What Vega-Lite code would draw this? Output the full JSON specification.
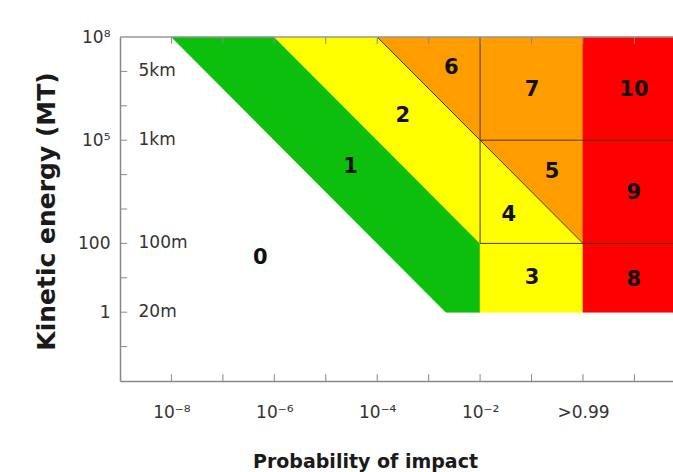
{
  "$schema": "https://vega.github.io/schema/vega-lite/v6.json",
  "autosize": {"type": "none"},
  "padding": {"left": 120, "top": 37, "right": 0, "bottom": 91},
  "width": 553,
  "height": 344,
  "background": "white",
  "config": {
    "view": {"stroke": null},
    "font": "DejaVu Sans"
  },
  "datasets": {
    "regions": [
      {"region": "1", "zone": "green", "u": -8, "lo": 8, "hi": 8},
      {"region": "1", "zone": "green", "u": -6, "lo": 5, "hi": 8},
      {"region": "1", "zone": "green", "u": -2.6667, "lo": 0, "hi": 3},
      {"region": "1", "zone": "green", "u": -2, "lo": 0, "hi": 2},
      {"region": "2", "zone": "yellow", "u": -6, "lo": 8, "hi": 8},
      {"region": "2", "zone": "yellow", "u": -4, "lo": 5, "hi": 8},
      {"region": "2", "zone": "yellow", "u": -2, "lo": 2, "hi": 5},
      {"region": "6", "zone": "orange", "u": -4, "lo": 8, "hi": 8},
      {"region": "6", "zone": "orange", "u": -2, "lo": 5, "hi": 8},
      {"region": "7", "zone": "orange", "u": -2, "lo": 5, "hi": 8},
      {"region": "7", "zone": "orange", "u": 0, "lo": 5, "hi": 8},
      {"region": "5", "zone": "orange", "u": -2, "lo": 5, "hi": 5},
      {"region": "5", "zone": "orange", "u": 0, "lo": 2, "hi": 5},
      {"region": "4", "zone": "yellow", "u": -2, "lo": 2, "hi": 5},
      {"region": "4", "zone": "yellow", "u": 0, "lo": 2, "hi": 2},
      {"region": "3", "zone": "yellow", "u": -2, "lo": 0, "hi": 2},
      {"region": "3", "zone": "yellow", "u": 0, "lo": 0, "hi": 2},
      {"region": "red", "zone": "red", "u": 0, "lo": 0, "hi": 8},
      {"region": "red", "zone": "red", "u": 1.75, "lo": 0, "hi": 8}
    ],
    "lines": [
      {"u": -4, "e": 8, "u2": 0, "e2": 2},
      {"u": -2, "e": 8, "u2": -2, "e2": 2},
      {"u": -2, "e": 5, "u2": 1.75, "e2": 5},
      {"u": -2, "e": 2, "u2": 1.75, "e2": 2}
    ],
    "ticks": [
      {"u": -8, "e": -2, "u2": -8, "e2": -1.8},
      {"u": -7, "e": -2, "u2": -7, "e2": -1.8},
      {"u": -6, "e": -2, "u2": -6, "e2": -1.8},
      {"u": -5, "e": -2, "u2": -5, "e2": -1.8},
      {"u": -4, "e": -2, "u2": -4, "e2": -1.8},
      {"u": -3, "e": -2, "u2": -3, "e2": -1.8},
      {"u": -2, "e": -2, "u2": -2, "e2": -1.8},
      {"u": -1, "e": -2, "u2": -1, "e2": -1.8},
      {"u": 0, "e": -2, "u2": 0, "e2": -1.8},
      {"u": 1, "e": -2, "u2": 1, "e2": -1.8},
      {"u": -8, "e": 8, "u2": -8, "e2": 7.8},
      {"u": -7, "e": 8, "u2": -7, "e2": 7.8},
      {"u": -6, "e": 8, "u2": -6, "e2": 7.8},
      {"u": -5, "e": 8, "u2": -5, "e2": 7.8},
      {"u": -4, "e": 8, "u2": -4, "e2": 7.8},
      {"u": -3, "e": 8, "u2": -3, "e2": 7.8},
      {"u": -2, "e": 8, "u2": -2, "e2": 7.8},
      {"u": -1, "e": 8, "u2": -1, "e2": 7.8},
      {"u": 0, "e": 8, "u2": 0, "e2": 7.8},
      {"u": 1, "e": 8, "u2": 1, "e2": 7.8},
      {"u": -9, "e": -1, "u2": -8.86, "e2": -1},
      {"u": -9, "e": 0, "u2": -8.86, "e2": 0},
      {"u": -9, "e": 1, "u2": -8.86, "e2": 1},
      {"u": -9, "e": 2, "u2": -8.86, "e2": 2},
      {"u": -9, "e": 3, "u2": -8.86, "e2": 3},
      {"u": -9, "e": 4, "u2": -8.86, "e2": 4},
      {"u": -9, "e": 5, "u2": -8.86, "e2": 5},
      {"u": -9, "e": 6, "u2": -8.86, "e2": 6},
      {"u": -9, "e": 7, "u2": -8.86, "e2": 7}
    ],
    "numbers": [
      {"label": "0", "u": -6.27, "e": 1.57},
      {"label": "1", "u": -4.52, "e": 4.22},
      {"label": "2", "u": -3.5, "e": 5.7},
      {"label": "6", "u": -2.56, "e": 7.1},
      {"label": "7", "u": -0.99, "e": 6.46},
      {"label": "10", "u": 0.99, "e": 6.46},
      {"label": "5", "u": -0.6, "e": 4.07},
      {"label": "9", "u": 0.99, "e": 3.46},
      {"label": "4", "u": -1.44, "e": 2.82},
      {"label": "3", "u": -0.99, "e": 0.99},
      {"label": "8", "u": 0.99, "e": 0.93}
    ],
    "sizes": [
      {"label": "5km", "u": -8.64, "e": 7},
      {"label": "1km", "u": -8.64, "e": 5},
      {"label": "100m", "u": -8.64, "e": 2},
      {"label": "20m", "u": -8.64, "e": 0}
    ]
  },
  "layer": [
    {
      "data": {"name": "regions"},
      "mark": {"type": "area", "strokeWidth": 0.6, "opacity": 1},
      "encoding": {
        "x": {
          "field": "u", "type": "quantitative",
          "scale": {"domain": [-9, 1.75], "nice": false, "zero": false},
          "axis": {
            "orient": "bottom",
            "values": [-8, -6, -4, -2, 0],
            "labelExpr": "datum.value==-8?'10⁻⁸':datum.value==-6?'10⁻⁶':datum.value==-4?'10⁻⁴':datum.value==-2?'10⁻²':'>0.99'",
            "ticks": false,
            "labelOverlap": false,
            "domainColor": "#888",
            "domainWidth": 1.5,
            "labelPadding": 23,
            "labelFontSize": 17,
            "labelColor": "#333",
            "labelFont": "DejaVu Sans",
            "grid": false,
            "title": "Probability of impact",
            "titleFont": "DejaVu Sans",
            "titleFontSize": 19,
            "titleFontWeight": "bold",
            "titleColor": "#1a1a1a",
            "titleX": 245,
            "titleY": 86,
            "titleBaseline": "alphabetic",
            "titleAlign": "center"
          }
        },
        "y": {
          "field": "hi", "type": "quantitative",
          "scale": {"domain": [-2, 8], "nice": false, "zero": false},
          "axis": {
            "orient": "left",
            "values": [0, 2, 5, 8],
            "labelExpr": "datum.value==8?'10⁸':datum.value==5?'10⁵':datum.value==2?'100':'1'",
            "ticks": false,
            "labelOverlap": false,
            "labelFlush": false,
            "domainColor": "#888",
            "domainWidth": 1.5,
            "labelPadding": 10,
            "labelFontSize": 17,
            "labelColor": "#333",
            "labelFont": "DejaVu Sans",
            "grid": false,
            "title": "Kinetic energy (MT)",
            "titleFont": "DejaVu Sans",
            "titleFontSize": 25,
            "titleFontWeight": "bold",
            "titleColor": "#1a1a1a",
            "titleAngle": -90,
            "titleX": -66,
            "titleY": 174,
            "titleBaseline": "alphabetic",
            "titleAlign": "center"
          }
        },
        "y2": {"field": "lo"},
        "color": {
          "field": "zone", "type": "nominal",
          "scale": {"domain": ["green", "yellow", "orange", "red"], "range": ["#0cbf0c", "#ffff00", "#ff9c00", "#ff0000"]},
          "legend": null
        },
        "stroke": {
          "field": "zone", "type": "nominal",
          "scale": {"domain": ["green", "yellow", "orange", "red"], "range": ["#0cbf0c", "#ffff00", "#ff9c00", "#ff0000"]},
          "legend": null
        },
        "detail": {"field": "region", "type": "nominal"}
      }
    },
    {
      "data": {"name": "lines"},
      "mark": {"type": "rule", "color": "#4a3a10", "strokeWidth": 1},
      "encoding": {
        "x": {"field": "u", "type": "quantitative"},
        "y": {"field": "e", "type": "quantitative"},
        "x2": {"field": "u2"},
        "y2": {"field": "e2"}
      }
    },
    {
      "data": {"name": "ticks"},
      "mark": {"type": "rule", "color": "#888", "strokeWidth": 1},
      "encoding": {
        "x": {"field": "u", "type": "quantitative"},
        "y": {"field": "e", "type": "quantitative"},
        "x2": {"field": "u2"},
        "y2": {"field": "e2"}
      }
    },
    {
      "data": {"name": "numbers"},
      "mark": {"type": "text", "font": "DejaVu Sans", "fontWeight": "bold", "fontSize": 21, "color": "#111", "align": "center", "baseline": "middle"},
      "encoding": {
        "x": {"field": "u", "type": "quantitative"},
        "y": {"field": "e", "type": "quantitative"},
        "text": {"field": "label"}
      }
    },
    {
      "data": {"name": "sizes"},
      "mark": {"type": "text", "font": "DejaVu Sans", "fontSize": 17, "color": "#333", "align": "left", "baseline": "middle"},
      "encoding": {
        "x": {"field": "u", "type": "quantitative"},
        "y": {"field": "e", "type": "quantitative"},
        "text": {"field": "label"}
      }
    },
    {
      "data": {"values": [{"u": -9, "u2": 1.75, "e": 8}]},
      "mark": {"type": "rule", "color": "#999", "strokeWidth": 1.5},
      "encoding": {
        "x": {"field": "u", "type": "quantitative"},
        "x2": {"field": "u2"},
        "y": {"field": "e", "type": "quantitative"}
      }
    }
  ]
}
